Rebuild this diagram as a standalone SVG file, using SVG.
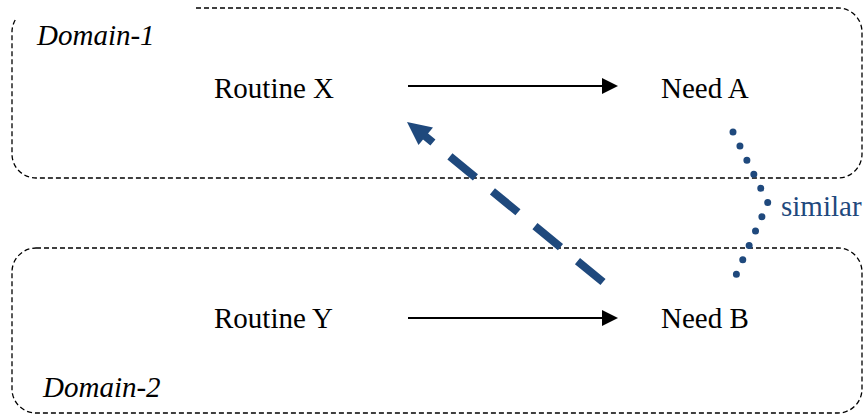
<svg xmlns="http://www.w3.org/2000/svg" width="866" height="419" viewBox="0 0 866 419">
  <style>
    .box { fill: none; stroke: #000; stroke-width: 1.3; stroke-dasharray: 5 3; }
    .lbl { font-size: 29px; fill: #000; }
    .dom { font-size: 29px; font-style: italic; fill: #000; }
    .sim { font-size: 29px; fill: #1F497D; }
    .arrow { fill: none; stroke: #000; stroke-width: 2; }
  </style>
  <rect width="866" height="419" fill="#fff"/>

  <g font-family="Liberation Serif, Times New Roman, serif">
  <g id="domain-1">
    <path class="box" d="M196,8 H838 A24 24 0 0 1 862,32 V154 A24 24 0 0 1 838,178 H36 A24 24 0 0 1 12,154 V32 A24 24 0 0 1 15.2,20"/>
    <text class="dom" x="37" y="45">Domain-1</text>
  </g>
  <g id="domain-2">
    <rect class="box" x="12" y="248" width="850" height="165" rx="24" ry="24"/>
    <text class="dom" x="43" y="397">Domain-2</text>
  </g>

  <g id="routine-x"><text class="lbl" x="214" y="98">Routine X</text></g>
  <g id="need-a"><text class="lbl" x="661" y="98">Need A</text></g>
  <g id="routine-y"><text class="lbl" x="214" y="328">Routine Y</text></g>
  <g id="need-b"><text class="lbl" x="661" y="328">Need B</text></g>

  <g id="connectors">
    <line class="arrow" x1="408" y1="86" x2="603" y2="86"/>
    <path d="M602,78 L618,86 L602,94 Z" fill="#000"/>
    <line class="arrow" x1="408" y1="318" x2="603" y2="318"/>
    <path d="M602,310 L618,318 L602,326 Z" fill="#000"/>

    <line x1="603" y1="282" x2="425" y2="136" stroke="#1F497D" stroke-width="8" stroke-dasharray="33 22"/>
    <path d="M407,122 L433,127.5 L418.5,145 Z" fill="#1F497D"/>

    <polyline points="733,132 768,203 736,275" fill="none" stroke="#1F497D" stroke-width="7" stroke-linecap="round" stroke-dasharray="0 15.7"/>
    <text class="sim" x="781" y="216">similar</text>
  </g>
  </g>
</svg>
